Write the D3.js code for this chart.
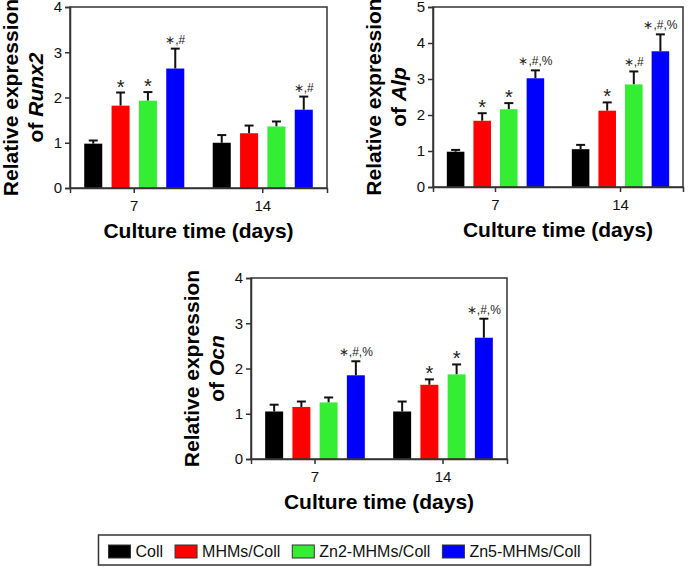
<!DOCTYPE html>
<html><head><meta charset="utf-8">
<script src="https://cdn.jsdelivr.net/npm/d3@7"></script>
<style>
html,body{margin:0;padding:0;background:#fff;}
text{font-family:"Liberation Sans",Arial,sans-serif;}
</style></head>
<body><svg id="c" width="689" height="567"></svg>
<script>
const groups = ["Coll", "MHMs/Coll", "Zn2-MHMs/Coll", "Zn5-MHMs/Coll"];
const colors = ["#000000", "#ff0000", "#33ee33", "#0000ff"];
const days = ["7", "14"];

const runx2Day7 = [0.98, 1.82, 1.93, 2.64];
const runx2Day7Sd = [0.07, 0.29, 0.19, 0.44];
const runx2Day14 = [1.00, 1.21, 1.36, 1.73];
const runx2Day14Sd = [0.17, 0.17, 0.11, 0.29];
const runx2Sig7 = ["", "*", "*", "*,#"];
const runx2Sig14 = ["", "", "", "*,#"];

const alpDay7 = [0.98, 1.84, 2.16, 3.02];
const alpDay7Sd = [0.05, 0.21, 0.17, 0.22];
const alpDay14 = [1.05, 2.12, 2.85, 3.77];
const alpDay14Sd = [0.12, 0.23, 0.36, 0.47];
const alpSig7 = ["", "*", "*", "*,#,%"];
const alpSig14 = ["", "*", "*,#", "*,#,%"];

const ocnDay7 = [1.05, 1.15, 1.25, 1.85];
const ocnDay7Sd = [0.15, 0.12, 0.11, 0.31];
const ocnDay14 = [1.05, 1.64, 1.87, 2.68];
const ocnDay14Sd = [0.22, 0.12, 0.22, 0.42];
const ocnSig7 = ["", "", "", "*,#,%"];
const ocnSig14 = ["", "*", "*", "*,#,%"];

const runx2Ticks = [0, 1, 2, 3, 4];
const alpTicks = [0, 1, 2, 3, 4, 5];
const ocnTicks = [0, 1, 2, 3, 4];

const svg = d3.select("#c");

function panel(cfg) {
  const g = svg.append("g");
  const x0 = d3.scaleBand().domain(days).range([cfg.left, cfg.right]).padding(0);
  const x1 = d3.scaleBand().domain(groups).range([0, x0.bandwidth()])
    .paddingInner(0.34).paddingOuter(0.52);
  const y = d3.scaleLinear().domain([0, d3.max(cfg.ticks)]).range([cfg.bottom, cfg.top]);

  const rows = [];
  days.forEach((d, di) => {
    groups.forEach((gname, gi) => {
      rows.push({day: d, group: gname, color: colors[gi],
        mean: cfg.means[di][gi], sd: cfg.sds[di][gi], sig: cfg.sigs[di][gi]});
    });
  });

  // error bars (drawn first, bars over them)
  const eb = g.append("g").attr("stroke", "#111").attr("stroke-width", 2);
  rows.forEach(r => {
    const cx = x0(r.day) + x1(r.group) + x1.bandwidth() / 2;
    eb.append("line").attr("x1", cx).attr("x2", cx).attr("y1", y(r.mean)).attr("y2", y(r.mean + r.sd));
    eb.append("line").attr("x1", cx - 4.5).attr("x2", cx + 4.5).attr("y1", y(r.mean + r.sd)).attr("y2", y(r.mean + r.sd));
  });

  g.append("g").selectAll("rect").data(rows).join("rect")
    .attr("x", r => x0(r.day) + x1(r.group))
    .attr("width", x1.bandwidth())
    .attr("y", r => y(r.mean))
    .attr("height", r => y(0) - y(r.mean))
    .attr("fill", r => r.color);

  // significance marks
  rows.filter(r => r.sig).forEach(r => {
    const cx = x0(r.day) + x1(r.group) + x1.bandwidth() / 2;
    const ty = y(r.mean + r.sd) - 5;
    const t = g.append("text").attr("x", cx).attr("y", ty).attr("text-anchor", "middle")
      .attr("fill", "#222");
    if (r.sig === "*") {
      t.attr("font-size", 20).attr("font-family", "DejaVu Sans").attr("dy", 6).text("*");
    } else {
      t.attr("font-size", 12).attr("font-family", "DejaVu Sans").text(r.sig.replace(/\*/g, "\u2217"));
    }
  });

  // frame
  g.append("rect").attr("x", cfg.left).attr("y", cfg.top)
    .attr("width", cfg.right - cfg.left).attr("height", cfg.bottom - cfg.top)
    .attr("fill", "none").attr("stroke", "#333").attr("stroke-width", 1.5);

  const ya = g.append("g").attr("transform", `translate(${cfg.left},0)`)
    .call(d3.axisLeft(y).tickValues(cfg.ticks).tickSize(5).tickPadding(3).tickFormat(d3.format("d")));
  ya.select(".domain").attr("stroke", "#333").attr("stroke-width", 1.5);
  ya.selectAll(".tick line").attr("stroke", "#333").attr("stroke-width", 1.5);
  ya.selectAll("text").attr("font-size", 15).attr("fill", "#111").attr("font-family", "Liberation Sans, Arial");

  const xa = g.append("g").attr("transform", `translate(0,${cfg.bottom})`)
    .call(d3.axisBottom(x0).tickSize(5).tickPadding(7));
  xa.select(".domain").attr("stroke", "#333").attr("stroke-width", 1.5);
  xa.selectAll(".tick line").attr("stroke", "#333").attr("stroke-width", 1.5);
  xa.selectAll("text").attr("font-size", 15).attr("fill", "#111").attr("font-family", "Liberation Sans, Arial");

  // x title
  g.append("text").attr("x", (cfg.left + cfg.right) / 2).attr("y", cfg.bottom + 50)
    .attr("text-anchor", "middle").attr("font-size", 21).attr("font-weight", "bold")
    .text("Culture time (days)");

  // y title
  const cy = (cfg.top + cfg.bottom) / 2;
  g.append("text").attr("transform", `translate(${cfg.left - 52},${cy}) rotate(-90)`)
    .attr("text-anchor", "middle").attr("font-size", 21).attr("font-weight", "bold")
    .text("Relative expression");
  const t2 = g.append("text").attr("transform", `translate(${cfg.left - 27},${cy}) rotate(-90)`)
    .attr("text-anchor", "middle").attr("font-size", 21).attr("font-weight", "bold");
  t2.append("tspan").text("of ");
  t2.append("tspan").attr("font-style", "italic").text(cfg.gene);
}

panel({gene: "Runx2", left: 70, right: 327, top: 7, bottom: 188, ticks: runx2Ticks,
  means: [runx2Day7, runx2Day14], sds: [runx2Day7Sd, runx2Day14Sd], sigs: [runx2Sig7, runx2Sig14]});
panel({gene: "Alp", left: 433, right: 683, top: 7, bottom: 187, ticks: alpTicks,
  means: [alpDay7, alpDay14], sds: [alpDay7Sd, alpDay14Sd], sigs: [alpSig7, alpSig14]});
panel({gene: "Ocn", left: 251, right: 507, top: 278, bottom: 459, ticks: ocnTicks,
  means: [ocnDay7, ocnDay14], sds: [ocnDay7Sd, ocnDay14Sd], sigs: [ocnSig7, ocnSig14]});

// legend
const lg = svg.append("g");
const items = lg.selectAll("g").data(groups).join("g");
items.append("rect").attr("y", 545).attr("width", 22).attr("height", 13)
  .attr("fill", (d, i) => colors[i]).attr("stroke", "#333").attr("stroke-width", 1);
items.append("text").attr("x", 27).attr("y", 557).attr("font-size", 16).attr("fill", "#111").text(d => d);
let xpos = 0;
const offs = [];
items.each(function () {
  offs.push(xpos);
  xpos += 27 + this.querySelector("text").getComputedTextLength() + 12;
});
const totalW = xpos - 12;
const startX = 344.5 - totalW / 2;
items.attr("transform", (d, i) => `translate(${startX + offs[i]},0)`);
lg.insert("rect", ":first-child").attr("x", startX - 10).attr("y", 535)
  .attr("width", totalW + 20).attr("height", 30)
  .attr("fill", "none").attr("stroke", "#333").attr("stroke-width", 1.5);
</script></body></html>
